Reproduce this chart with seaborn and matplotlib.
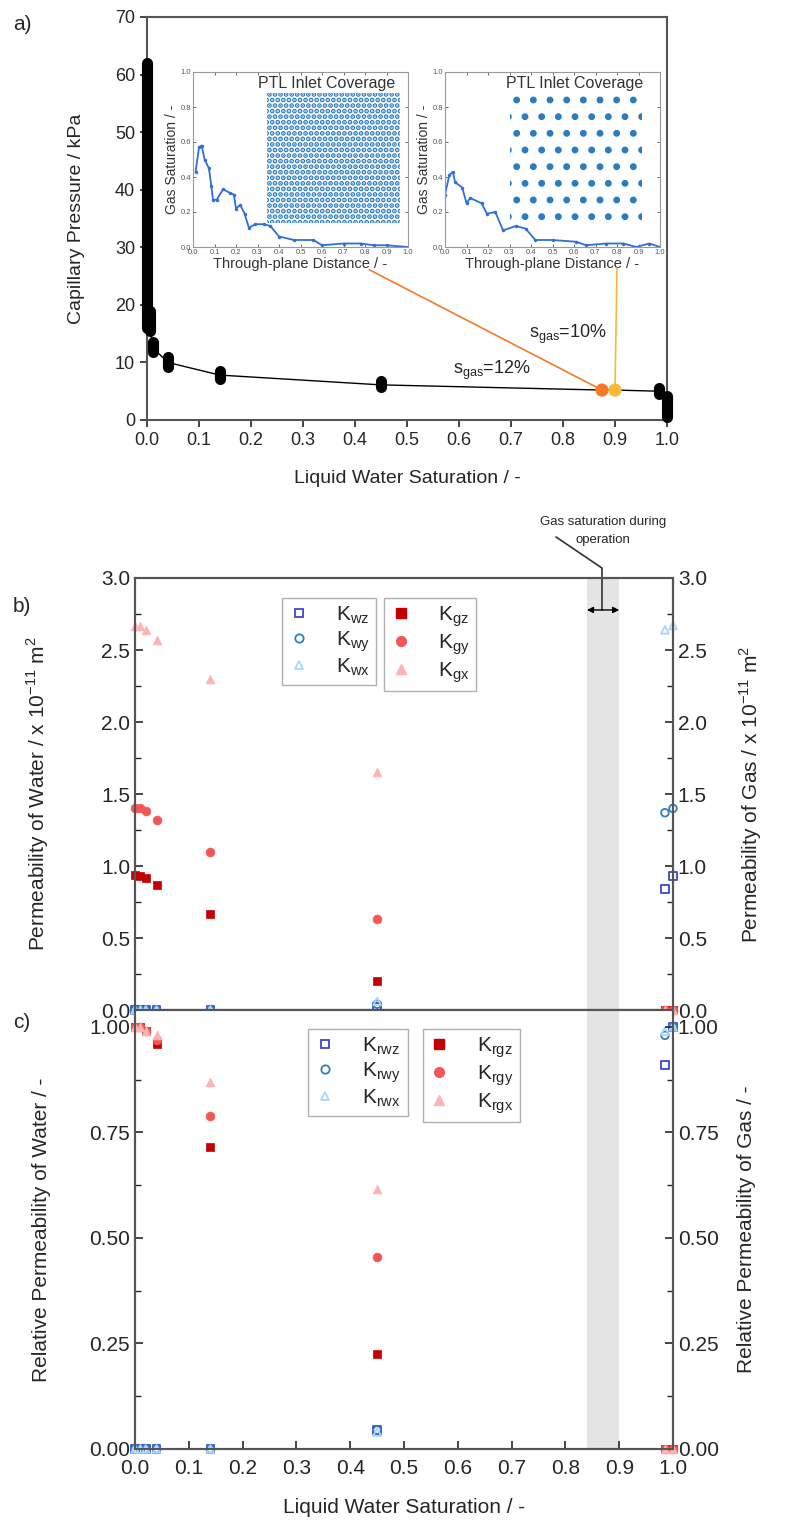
import matplotlib
matplotlib.use("Agg")
import matplotlib.pyplot as plt
import seaborn as sns
from matplotlib.lines import Line2D
from matplotlib.patches import Rectangle, ConnectionPatch
from matplotlib.ticker import MultipleLocator

# ---------------- data ----------------
# a) capillary pressure curve (clusters of measured points at each step)
pc_sat = [0.0, 0.005, 0.012, 0.04, 0.14, 0.45, 0.985, 1.0]
pc_low = [16.0, 15.5, 11.8, 9.2, 7.2, 5.8, 4.5, 0.5]
pc_high = [62.0, 19.0, 13.5, 11.0, 8.5, 6.7, 5.6, 4.2]
line_sat = [0.0, 0.005, 0.012, 0.04, 0.14, 0.45, 0.875, 0.90, 0.985, 1.0]
line_p = [17.0, 16.0, 12.5, 10.0, 7.8, 6.1, 5.2, 5.2, 5.0, 4.0]
op_sat = [0.875, 0.90]
op_p = [5.2, 5.2]
op_names = ["s$_{\\mathregular{gas}}$=12%", "s$_{\\mathregular{gas}}$=10%"]
op_colors = ["#f47b2a", "#f9b934"]

# insets: gas saturation profile through the PTL
dist_12 = [0.012, 0.028, 0.04, 0.054, 0.074, 0.085, 0.093, 0.11, 0.14, 0.17, 0.19, 0.2,
           0.22, 0.24, 0.26, 0.29, 0.33, 0.36, 0.4, 0.47, 0.56, 0.6, 0.7, 0.78, 0.84, 0.9, 1.0]
gas_12 = [0.43, 0.57, 0.58, 0.50, 0.45, 0.35, 0.27, 0.27, 0.33, 0.31, 0.30, 0.22,
          0.24, 0.19, 0.11, 0.13, 0.13, 0.12, 0.06, 0.04, 0.04, 0.01, 0.02, 0.02, 0.01, 0.01, 0.0]
dist_10 = [0.0, 0.02, 0.036, 0.047, 0.08, 0.1, 0.117, 0.17, 0.195, 0.234, 0.27, 0.33,
           0.375, 0.42, 0.5, 0.61, 0.656, 0.75, 0.83, 0.89, 0.95, 1.0]
gas_10 = [0.30, 0.41, 0.43, 0.37, 0.34, 0.25, 0.28, 0.25, 0.19, 0.20, 0.095, 0.12,
          0.105, 0.04, 0.04, 0.03, 0.01, 0.02, 0.02, 0.0, 0.02, 0.0]

# b) / c) permeabilities
sat = [0.0, 0.01, 0.02, 0.04, 0.14, 0.45, 0.985, 1.0]
k_wz = [0, 0, 0, 0, 0, 0.02, 0.84, 0.93]
k_wy = [0, 0, 0, 0, 0, 0.04, 1.37, 1.40]
k_wx = [0, 0, 0, 0, 0, 0.06, 2.64, 2.67]
k_gz = [0.94, 0.93, 0.92, 0.87, 0.67, 0.20, 0, 0]
k_gy = [1.40, 1.40, 1.38, 1.32, 1.10, 0.63, 0, 0]
k_gx = [2.67, 2.67, 2.64, 2.57, 2.30, 1.65, 0, 0]
kr_wz = [0, 0, 0, 0, 0, 0.045, 0.91, 1.0]
kr_wy = [0, 0, 0, 0, 0, 0.045, 0.98, 1.0]
kr_wx = [0, 0, 0, 0, 0, 0.04, 0.99, 1.0]
kr_gz = [1.0, 1.0, 0.99, 0.96, 0.715, 0.225, 0, 0]
kr_gy = [1.0, 1.0, 0.99, 0.97, 0.79, 0.455, 0, 0]
kr_gx = [1.0, 1.0, 0.99, 0.98, 0.87, 0.615, 0, 0]
band = [0.84, 0.90]

# ---------------- style ----------------
sns.set_style("ticks")
plt.rcParams["font.family"] = ["Liberation Sans", "DejaVu Sans"]
plt.rcParams["mathtext.fontset"] = "custom"
plt.rcParams["mathtext.rm"] = "Liberation Sans"
plt.rcParams["hatch.color"] = "#2b7cc0"
plt.rcParams["hatch.linewidth"] = 2.5
TXT = "#262626"
SPINE = "#555555"

W, H = 785, 1524
fig = plt.figure(figsize=(W / 100, H / 100), dpi=100)


def px_rect(l, t, r, b):
    return [l / W, 1 - b / H, (r - l) / W, (b - t) / H]


# ---------------- panel a ----------------
ax_a = fig.add_axes(px_rect(147, 17, 667, 420))
sns.lineplot(x=line_sat, y=line_p, sort=False, color="black", lw=1.0, ax=ax_a, zorder=2)
ax_a.vlines(pc_sat, pc_low, pc_high, color="black", lw=8, capstyle="round", zorder=3, clip_on=False)
sns.scatterplot(x=op_sat, y=op_p, hue=op_names, palette=op_colors, s=90, edgecolor="none",
                legend=False, ax=ax_a, zorder=5)
ax_a.text(0.663, 8.7, op_names[0], ha="center", va="center", fontsize=13, color=TXT)
ax_a.text(0.81, 14.8, op_names[1], ha="center", va="center", fontsize=13, color=TXT)
ax_a.set_xlim(0, 1)
ax_a.set_ylim(0, 70)
ax_a.xaxis.set_major_locator(MultipleLocator(0.1))
ax_a.yaxis.set_major_locator(MultipleLocator(10))
ax_a.tick_params(direction="out", length=5, width=1.2, labelsize=13, colors=TXT)
ax_a.set_xlabel("Liquid Water Saturation / -", fontsize=14, color=TXT)
ax_a.set_ylabel("Capillary Pressure / kPa", fontsize=14, color=TXT)
ax_a.xaxis.set_label_coords(0.5, -0.125)
ax_a.yaxis.set_label_coords(-0.12, 0.5)
for sp in ax_a.spines.values():
    sp.set_color(SPINE)
    sp.set_linewidth(1.5)

insets = [
    ((193, 72, 408, 247), (267, 93, 400, 223), dist_12, gas_12, "...", 0.94, (0.82, -0.13), 0),
    ((445, 72, 660, 247), (510, 93, 642, 223), dist_10, gas_10, ".", 0.92, (0.80, -0.12), 1),
]
for rect, cov, d, g, hatch, tx, end, k in insets:
    ax_i = fig.add_axes(px_rect(*rect))
    sns.lineplot(x=d, y=g, color="#2f6fd8", lw=1.3, marker="o", markersize=2.5,
                 markeredgewidth=0, ax=ax_i)
    ax_i.set_xlim(0, 1)
    ax_i.set_ylim(0, 1)
    ax_i.xaxis.set_major_locator(MultipleLocator(0.1))
    ax_i.yaxis.set_major_locator(MultipleLocator(0.2))
    ax_i.tick_params(direction="in", length=2, width=0.6, labelsize=5.5, colors="#555555",
                     top=True, right=True, pad=1.5)
    ax_i.set_xlabel("Through-plane Distance / -", fontsize=10.5, color="#333333", labelpad=1)
    ax_i.set_ylabel("Gas Saturation / -", fontsize=10, color="#333333", labelpad=1)
    for sp in ax_i.spines.values():
        sp.set_color("#999999")
        sp.set_linewidth(0.8)
    ax_i.text(tx, 0.935, "PTL Inlet Coverage", transform=ax_i.transAxes, ha="right",
              va="center", fontsize=11.5, color="#333333")
    ax_c = fig.add_axes(px_rect(*cov))
    ax_c.axis("off")
    ax_c.add_patch(Rectangle((0, 0), 1, 1, transform=ax_c.transAxes, facecolor="white",
                             edgecolor="#2b7cc0", hatch=hatch, lw=0))
    con = ConnectionPatch(xyA=(op_sat[k], op_p[k]), coordsA=ax_a.transData,
                          xyB=end, coordsB=ax_i.transAxes, color=op_colors[k], lw=1.2, zorder=1)
    fig.add_artist(con)

# ---------------- panels b and c ----------------
water = [("s", "#3b48c8"), ("o", "#2f7fbf"), ("^", "#a9d6ff")]
gas = [("s", "#c40000"), ("o", "#f25757"), ("^", "#ffb3b3")]


def draw(ax, wvals, gvals):
    ax.axvspan(band[0], band[1], color="#e4e4e4", lw=0, zorder=0)
    for (m, c), v in zip(gas, gvals):
        sns.scatterplot(x=sat, y=v, marker=m, color=c, s=40, edgecolor=c, linewidth=0.5,
                        legend=False, ax=ax, zorder=4, clip_on=False)
    for (m, c), v in zip(water, wvals):
        sns.scatterplot(x=sat, y=v, marker=m, s=30, facecolor="none", edgecolor=c,
                        linewidth=1.3, legend=False, ax=ax, zorder=5, clip_on=False)


def legends(ax, wlab, glab, pos_w, pos_g):
    hw = [Line2D([], [], ls="none", marker=m, mfc="none", mec=c, mew=1.3, ms=6) for m, c in water]
    hg = [Line2D([], [], ls="none", marker=m, mfc=c, mec=c, ms=7) for m, c in gas]
    kw = dict(loc="upper left", fontsize=15, handlelength=1.0, handletextpad=1.3,
              borderpad=0.3, labelspacing=0.15, borderaxespad=0, fancybox=False,
              edgecolor="#b0b0b0", framealpha=1)
    l1 = ax.legend(hw, wlab, bbox_to_anchor=pos_w, **kw)
    ax.add_artist(l1)
    ax.legend(hg, glab, bbox_to_anchor=pos_g, **kw)


def style(ax, ax2, major, minor):
    for a in (ax, ax2):
        a.yaxis.set_major_locator(MultipleLocator(major))
        a.yaxis.set_minor_locator(MultipleLocator(minor))
        a.tick_params(axis="y", which="major", direction="in", length=6, width=1.2,
                      labelsize=15, colors=TXT)
        a.tick_params(axis="y", which="minor", direction="in", length=4, width=1.0)
        for sp in a.spines.values():
            sp.set_color(SPINE)
            sp.set_linewidth(1.5)


ax_b = fig.add_axes(px_rect(135, 578, 673, 1010))
draw(ax_b, [k_wz, k_wy, k_wx], [k_gz, k_gy, k_gx])
ax_b.set_xlim(0, 1)
ax_b.set_ylim(0, 3)
ax_b2 = ax_b.twinx()
ax_b2.set_ylim(0, 3)
style(ax_b, ax_b2, 0.5, 0.25)
ax_b.tick_params(axis="x", bottom=False, labelbottom=False)
ax_b.set_ylabel("Permeability of Water / x 10$^{\\mathregular{-11}}$ m$^{\\mathregular{2}}$",
                fontsize=15, color=TXT)
ax_b2.set_ylabel("Permeability of Gas / x 10$^{\\mathregular{-11}}$ m$^{\\mathregular{2}}$",
                 fontsize=15, color=TXT, rotation=90)
ax_b.yaxis.set_label_coords(-0.156, 0.5)
ax_b2.yaxis.set_label_coords(1.119, 0.5)
legends(ax_b, ["K$_{\\mathregular{wz}}$", "K$_{\\mathregular{wy}}$", "K$_{\\mathregular{wx}}$"],
        ["K$_{\\mathregular{gz}}$", "K$_{\\mathregular{gy}}$", "K$_{\\mathregular{gx}}$"],
        (0.273, 0.954), (0.463, 0.954))

# annotation of the operating window
ax_b.plot([0.7825, 0.868, 0.868], [3.285, 3.069, 2.778], color="#333333", lw=1.2, clip_on=False)
ax_b.annotate("", xy=(band[0], 2.778), xytext=(band[1], 2.778),
              arrowprops=dict(arrowstyle="<|-|>", color="black", lw=1.0,
                              mutation_scale=9, shrinkA=0, shrinkB=0))
fig.text(603 / W, 1 - 531 / H, "Gas saturation during\noperation", ha="center", va="center",
         fontsize=9.5, color=TXT, linespacing=1.75)

ax_c = fig.add_axes(px_rect(135, 1010, 673, 1449))
draw(ax_c, [kr_wz, kr_wy, kr_wx], [kr_gz, kr_gy, kr_gx])
ax_c.set_xlim(0, 1)
ax_c.set_ylim(0, 1.04)
ax_c2 = ax_c.twinx()
ax_c2.set_ylim(0, 1.04)
style(ax_c, ax_c2, 0.25, 0.125)
ax_c.xaxis.set_major_locator(MultipleLocator(0.1))
ax_c.tick_params(axis="x", direction="in", length=6, width=1.2, labelsize=15, colors=TXT,
                 pad=7)
ax_c.set_xlabel("Liquid Water Saturation / -", fontsize=15, color=TXT)
ax_c.xaxis.set_label_coords(0.5, -0.112)
ax_c.set_ylabel("Relative Permeability of Water / -", fontsize=15, color=TXT)
ax_c2.set_ylabel("Relative Permeability of Gas / -", fontsize=15, color=TXT, rotation=90)
ax_c.yaxis.set_label_coords(-0.156, 0.5)
ax_c2.yaxis.set_label_coords(1.119, 0.5)
legends(ax_c, ["K$_{\\mathregular{rwz}}$", "K$_{\\mathregular{rwy}}$", "K$_{\\mathregular{rwx}}$"],
        ["K$_{\\mathregular{rgz}}$", "K$_{\\mathregular{rgy}}$", "K$_{\\mathregular{rgx}}$"],
        (0.322, 0.957), (0.535, 0.957))

for lab, y in [("a)", 24), ("b)", 607), ("c)", 1023)]:
    fig.text(22 / W, 1 - y / H, lab, ha="center", va="center", fontsize=15, color=TXT)

fig.savefig("out.png", dpi=100)
